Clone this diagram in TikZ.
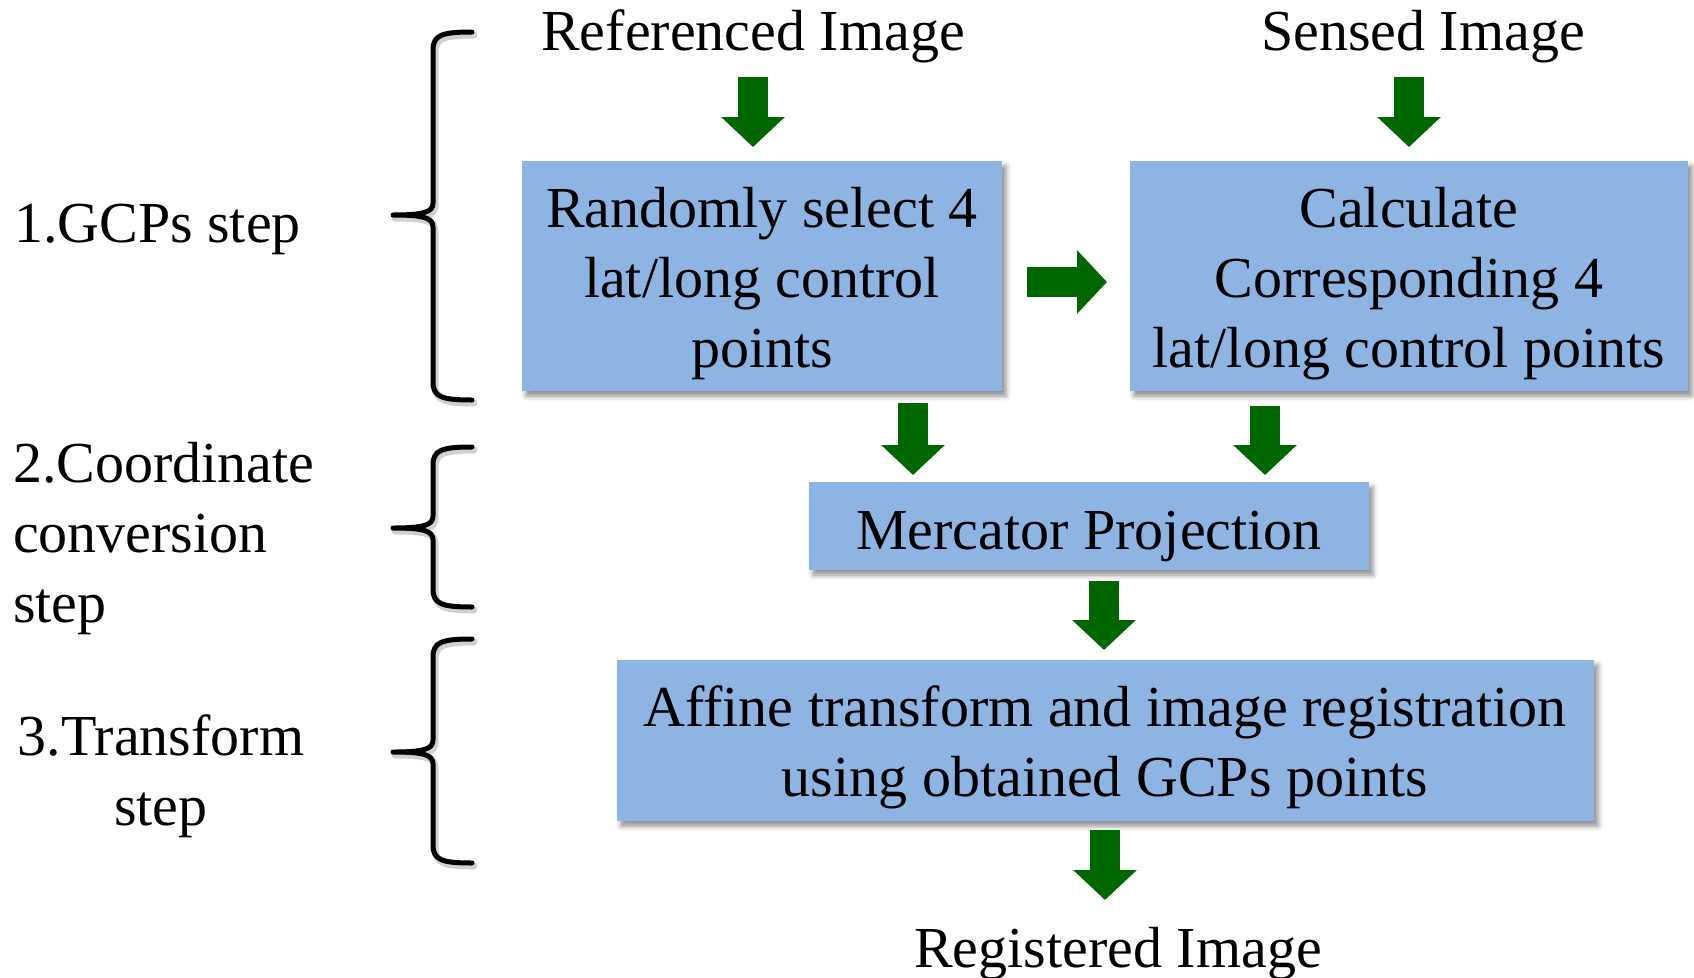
\documentclass[tikz,border=0pt]{standalone}
\usepackage{fontspec}
\setmainfont{Liberation Serif}
\usetikzlibrary{arrows.meta,shadows.blur}

\definecolor{boxblue}{HTML}{8EB4E3}
\definecolor{arrowgreen}{HTML}{006600}

\tikzset{
  every node/.style={font=\fontsize{58}{70}\selectfont, inner sep=0pt, outer sep=0pt},
  stepbox/.style={rectangle, fill=boxblue, draw=none,
    blur shadow={shadow xshift=4pt, shadow yshift=-5pt,
                 shadow blur radius=5pt, shadow opacity=45}},
  blocktext/.style={anchor=base, align=flush center, text width=#1},
  sidetext/.style={anchor=base west, align=flush left, text width=#1},
  fatarrow/.style={draw=arrowgreen, line width=30pt,
    -{Triangle[length=30pt, width=62pt, fill=arrowgreen]}},
  bracket/.style={line width=5pt, line cap=round, line join=round},
  bracketshade/.style={bracket, draw=black, opacity=0.18, line width=7pt},
}

% curly bracket: top y, tip y, bottom y
\newcommand\stepbrace[4][bracket]{%
  \draw[#1] (472,#2) .. controls (442,#2) and (433,#2+3) .. (433,#2+18)
    -- (433,#3-12) .. controls (433,#3-3) and (424,#3) .. (393,#3)
    .. controls (424,#3) and (433,#3+3) .. (433,#3+12)
    -- (433,#4-18) .. controls (433,#4-3) and (442,#4) .. (472,#4);}

\begin{document}
\begin{tikzpicture}[x=1pt, y=-1pt]
  \useasboundingbox (0,0) rectangle (1694,977);

  % input / output labels
  \node[anchor=base] (ref) at (753,50) {Referenced Image};
  \node[anchor=base] (sen) at (1423,50) {Sensed Image};
  \node[anchor=base] (reg) at (1118,967) {Registered Image};

  % process boxes
  \node[stepbox, minimum width=480pt, minimum height=230pt] (sel) at (762,276) {};
  \node[blocktext=480pt] (seltxt) at (762,227) {Randomly select 4\\lat/long control\\points};

  \node[stepbox, minimum width=558pt, minimum height=230pt] (calc) at (1409,276) {};
  \node[blocktext=558pt] (calctxt) at (1409,227) {Calculate\\Corresponding 4\\lat/long control points};

  \node[stepbox, minimum width=560pt, minimum height=88pt] (merc) at (1089,526) {};
  \node[blocktext=560pt] (merctxt) at (1089,549) {Mercator Projection};

  \node[stepbox, minimum width=977pt, minimum height=161pt] (aff) at (1105.5,740.5) {};
  \node[blocktext=977pt] (afftxt) at (1105,726) {Affine transform and image registration\\using obtained GCPs points};

  % arrow end points
  \coordinate (refA) at (753,77);   \coordinate (refB) at (753,147);
  \coordinate (senA) at (1409,77);  \coordinate (senB) at (1409,147);
  \coordinate (selR) at (1027,282); \coordinate (calcL) at (1107,282);
  \coordinate (selA) at (913,403);  \coordinate (selB) at (913,475);
  \coordinate (calcA) at (1265,406);\coordinate (calcB) at (1265,475);
  \coordinate (mercA) at (1104,581);\coordinate (mercB) at (1104,650);
  \coordinate (affA) at (1105,830); \coordinate (affB) at (1105,900);

  \draw[fatarrow] (refA) -- (refB);
  \draw[fatarrow] (senA) -- (senB);
  \draw[fatarrow] (selR) -- (calcL);
  \draw[fatarrow] (selA) -- (selB);
  \draw[fatarrow] (calcA) -- (calcB);
  \draw[fatarrow] (mercA) -- (mercB);
  \draw[fatarrow] (affA) -- (affB);

  % stage labels
  \node[sidetext=320pt] (st1) at (14,242) {1.GCPs step};
  \node[sidetext=320pt] (st2) at (13,482) {2.Coordinate\\conversion\\step};
  \node[blocktext=320pt] (st3) at (161,755) {3.Transform\\step};

  % brackets grouping the stages
  \begin{scope}[xshift=2pt, yshift=-3pt]
    \stepbrace[bracketshade]{32}{215}{400}
    \stepbrace[bracketshade]{447}{528}{607}
    \stepbrace[bracketshade]{639}{752}{863}
  \end{scope}
  \stepbrace{32}{215}{400}
  \stepbrace{447}{528}{607}
  \stepbrace{639}{752}{863}
\end{tikzpicture}
\end{document}
